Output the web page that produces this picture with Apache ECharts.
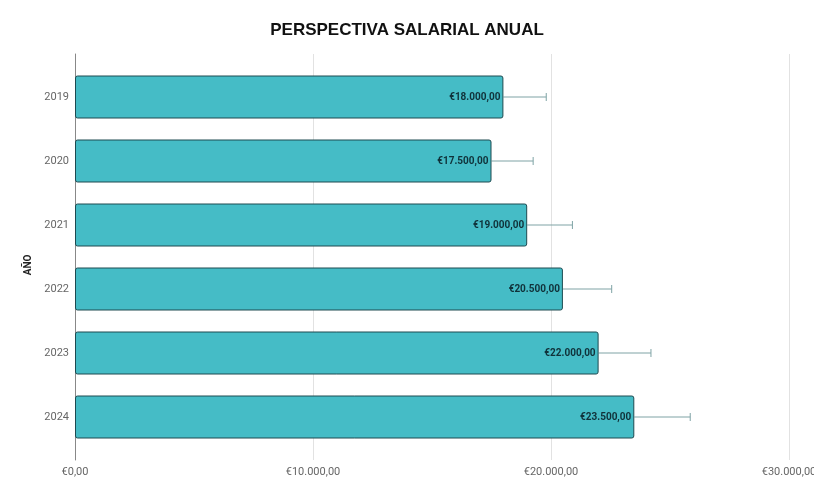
<!DOCTYPE html>
<html>
<head>
<meta charset="utf-8">
<title>Perspectiva salarial anual</title>
<script src="https://cdn.jsdelivr.net/npm/echarts@6/dist/echarts.min.js"></script>
<style>
  html, body { margin: 0; padding: 0; background: #fff; }
  #chart { width: 814px; height: 500px; }
</style>
</head>
<body>
<div id="chart"></div>
<script>
// datos
var years = ['2019', '2020', '2021', '2022', '2023', '2024'];
var salary = [18000, 17500, 19000, 20500, 22000, 23500];
var errorHigh = [19800, 19250, 20900, 22550, 24200, 25850];
var xTicks = [0, 10000, 20000, 30000];

// formato europeo: €18.000,00
function euro(v) {
    var parts = Number(v).toFixed(2).split('.');
    var ent = parts[0].replace(/\B(?=(\d{3})+(?!\d))/g, '.');
    return '€' + ent + ',' + parts[1];
}

var errData = [];
for (var i = 0; i < years.length; i++) {
    errData.push([i, salary[i], errorHigh[i]]);
}

var chart = echarts.init(document.getElementById('chart'));

var option = {
    animation: false,
    title: {
        text: 'PERSPECTIVA SALARIAL ANUAL',
        left: 'center',
        top: 17,
        textStyle: {
            fontFamily: 'Liberation Sans',
            fontSize: 17,
            fontWeight: 'bold',
            color: '#111'
        }
    },
    grid: [
        // rejilla exterior: lineas y ejes
        { left: 75, right: 25, top: 54, bottom: 40, outerBoundsMode: 'none', containLabel: false },
        // rejilla de las barras
        { left: 75, right: 25, top: 65, bottom: 51, outerBoundsMode: 'none', containLabel: false }
    ],
    xAxis: [
        {
            gridIndex: 0,
            type: 'value',
            min: xTicks[0],
            max: xTicks[xTicks.length - 1],
            interval: xTicks[1] - xTicks[0],
            axisLine: { show: false },
            axisTick: { show: false },
            axisLabel: {
                formatter: euro,
                color: '#666',
                fontFamily: 'Roboto',
                fontSize: 11,
                margin: 7
            },
            splitLine: { lineStyle: { color: '#e2e2e2', width: 1 } }
        },
        {
            gridIndex: 1,
            type: 'value',
            min: xTicks[0],
            max: xTicks[xTicks.length - 1],
            show: false
        }
    ],
    yAxis: [
        {
            gridIndex: 0,
            type: 'category',
            data: years,
            inverse: true,
            name: 'AÑO',
            nameLocation: 'middle',
            nameGap: 42,
            nameRotate: 90,
            nameTextStyle: {
                fontFamily: 'Roboto',
                fontWeight: 'bold',
                fontSize: 10,
                color: '#222',
                padding: [0, 16, 0, 0]
            },
            axisLine: { show: true, lineStyle: { color: '#888', width: 1 } },
            axisTick: { show: false },
            axisLabel: { show: false },
            splitLine: { show: false }
        },
        {
            gridIndex: 1,
            type: 'category',
            data: years,
            inverse: true,
            axisLine: { show: false },
            axisTick: { show: false },
            axisLabel: {
                color: '#666',
                fontFamily: 'Roboto',
                fontSize: 11,
                margin: 6
            }
        }
    ],
    series: [
        {
            name: 'Salario',
            type: 'bar',
            xAxisIndex: 1,
            yAxisIndex: 1,
            data: salary,
            barWidth: 43,
            itemStyle: {
                color: '#45bcc6',
                borderColor: '#1e4a50',
                borderWidth: 1,
                borderRadius: 2
            },
            label: {
                show: true,
                position: 'insideRight',
                distance: 3,
                formatter: function (p) { return euro(p.value); },
                fontFamily: 'Roboto',
                fontWeight: 'bold',
                fontSize: 10,
                color: '#10323a'
            },
            z: 3
        },
        {
            name: 'Error',
            type: 'custom',
            xAxisIndex: 1,
            yAxisIndex: 1,
            data: errData,
            encode: { x: [1, 2], y: 0 },
            renderItem: function (params, api) {
                var cat = api.value(0);
                var start = api.coord([api.value(1), cat]);
                var end = api.coord([api.value(2), cat]);
                var style = { stroke: '#7fa3a5', lineWidth: 1 };
                return {
                    type: 'group',
                    children: [
                        { type: 'line', shape: { x1: start[0], y1: start[1], x2: end[0], y2: end[1] }, style: style },
                        { type: 'line', shape: { x1: end[0], y1: end[1] - 4, x2: end[0], y2: end[1] + 4 }, style: style }
                    ]
                };
            },
            z: 2
        }
    ]
};

chart.setOption(option);
</script>
</body>
</html>
